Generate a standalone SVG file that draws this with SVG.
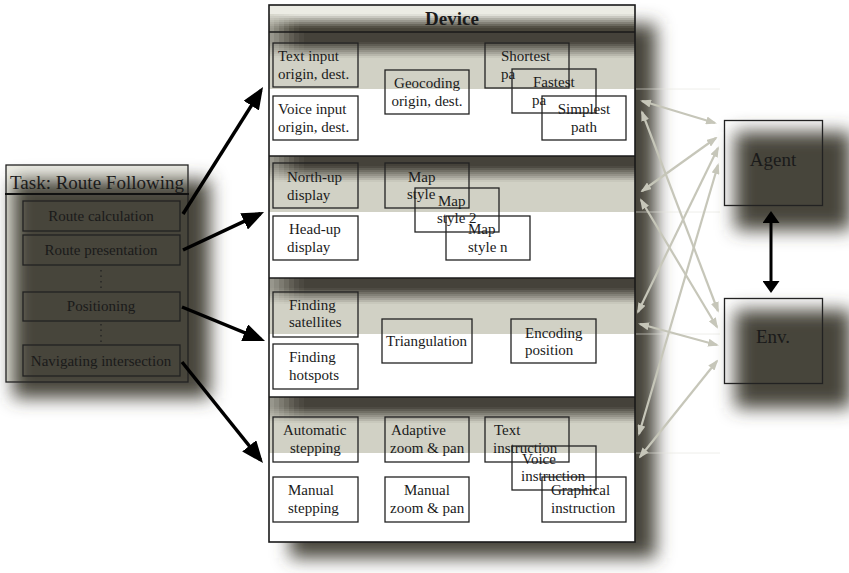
<svg xmlns="http://www.w3.org/2000/svg" width="849" height="573" viewBox="0 0 849 573">
<style>
.t{font-family:"Liberation Serif","Times New Roman",serif;font-size:15px;fill:#1a1a1a}
.tc{text-anchor:middle}
.box{fill:none;stroke:#222;stroke-width:1.3}
.sep{stroke:#1a1a1a;stroke-width:1.6}
.blk{stroke:#000;stroke-width:3.5;fill:none}
.gry{stroke:#c6c6b9;stroke-width:2.2;fill:none}
.dark{fill:#47443a}
.faint{stroke:#e4e4dc;stroke-width:1;opacity:0.6}
.lf{fill:#d1d1c5}
</style>
<defs>
<filter id="blur" filterUnits="userSpaceOnUse" x="0" y="0" width="849" height="573"><feGaussianBlur stdDeviation="9"/></filter>
<g id="shade">
<rect x="269" y="0" width="366" height="10" fill="#45423a"/>
<rect x="269" y="10" width="366" height="2" fill="#4e4b43"/>
<rect x="269" y="12" width="366" height="2" fill="#5f5d54"/>
<rect x="269" y="14" width="366" height="2" fill="#716f65"/>
<rect x="269" y="16" width="366" height="2" fill="#828177"/>
<rect x="269" y="18" width="366" height="2" fill="#949288"/>
<rect x="269" y="20" width="366" height="2" fill="#a5a49a"/>
<rect x="269" y="22" width="366" height="2" fill="#b7b6ab"/>
<rect x="269" y="24" width="366" height="2" fill="#c8c8bc"/>
<rect class="lf" x="269" y="0" width="5" height="26" opacity="0.6"/>
<rect class="lf" x="274" y="0" width="5" height="26" opacity="0.5"/>
<rect class="lf" x="279" y="0" width="5" height="26" opacity="0.4"/>
<rect class="lf" x="284" y="0" width="5" height="26" opacity="0.3"/>
<rect class="lf" x="289" y="0" width="5" height="26" opacity="0.2"/>
<rect class="lf" x="294" y="0" width="5" height="26" opacity="0.11"/>
<rect class="lf" x="299" y="0" width="5" height="26" opacity="0.05"/>
</g>
<marker id="ah" markerUnits="userSpaceOnUse" markerWidth="22" markerHeight="18" refX="18" refY="9" orient="auto"><path d="M0,0 L22,9 L0,18 Z" fill="#000"/></marker>
<marker id="ah2" markerUnits="userSpaceOnUse" markerWidth="12" markerHeight="17" refX="9" refY="8.5" orient="auto-start-reverse"><path d="M0,0 L12,8.5 L0,17 Z" fill="#000"/></marker>
<marker id="ag" markerUnits="userSpaceOnUse" markerWidth="11" markerHeight="8" refX="9" refY="4" orient="auto-start-reverse"><path d="M0,0 L11,4 L0,8 Z" fill="#c6c6b9"/></marker>
</defs>
<rect width="849" height="573" fill="#fff"/>

<!-- Device -->
<g id="device">
<rect class="dark" x="290" y="24" width="366" height="534" filter="url(#blur)"/>
<line class="faint" x1="636" y1="89" x2="720" y2="89"/>
<line class="faint" x1="636" y1="212" x2="720" y2="212"/>
<line class="faint" x1="636" y1="334" x2="720" y2="334"/>
<line class="faint" x1="636" y1="453" x2="720" y2="453"/>
<rect x="269" y="5" width="366" height="537" fill="#fff"/>
<g id="header-shade">
<rect x="269" y="5" width="366" height="9" fill="#ecece4"/>
<rect x="269" y="14" width="366" height="2" fill="#e0e0d8"/>
<rect x="269" y="16" width="366" height="2" fill="#c9c8c0"/>
<rect x="269" y="18" width="366" height="2" fill="#b1b0a7"/>
<rect x="269" y="20" width="366" height="2" fill="#9a998f"/>
<rect x="269" y="22" width="366" height="2" fill="#838177"/>
<rect x="269" y="24" width="366" height="2" fill="#6b695e"/>
<rect x="269" y="26" width="366" height="2" fill="#545146"/>
<rect x="269" y="28" width="366" height="4" fill="#48453a"/>
<rect class="lf" x="269" y="14" width="5" height="18" opacity="0.6"/>
<rect class="lf" x="274" y="14" width="5" height="18" opacity="0.48"/>
<rect class="lf" x="279" y="14" width="5" height="18" opacity="0.36"/>
<rect class="lf" x="284" y="14" width="5" height="18" opacity="0.24"/>
<rect class="lf" x="289" y="14" width="5" height="18" opacity="0.13"/>
<rect class="lf" x="294" y="14" width="5" height="18" opacity="0.05"/>
</g>
<rect x="269" y="32" width="366" height="57" fill="#d1d1c5"/>
<use href="#shade" y="32"/>
<rect x="269" y="156" width="366" height="56" fill="#d1d1c5"/>
<use href="#shade" y="156"/>
<rect x="269" y="278" width="366" height="56" fill="#d1d1c5"/>
<use href="#shade" y="278"/>
<rect x="269" y="397" width="366" height="56" fill="#d1d1c5"/>
<use href="#shade" y="397"/>
<rect x="269" y="5" width="366" height="537" fill="none" stroke="#1a1a1a" stroke-width="1.6"/>
<line class="sep" x1="269" y1="32" x2="635" y2="32"/>
<line class="sep" x1="269" y1="156" x2="635" y2="156"/>
<line class="sep" x1="269" y1="278" x2="635" y2="278"/>
<line class="sep" x1="269" y1="397" x2="635" y2="397"/>
<text class="t tc" x="452" y="25" style="font-size:19px;font-weight:bold">Device</text>
</g>

<g id="text-input"><rect class="box" x="273" y="43" width="85" height="44"/><text class="t"><tspan x="278" y="61">Text input</tspan><tspan x="278" y="79">origin, dest.</tspan></text></g>
<g id="voice-input"><rect class="box" x="273" y="96" width="85" height="44"/><text class="t"><tspan x="278" y="114">Voice input</tspan><tspan x="278" y="132">origin, dest.</tspan></text></g>
<g id="geocoding"><rect class="box" x="385" y="70" width="84" height="44"/><text class="t tc"><tspan x="427" y="88">Geocoding</tspan><tspan x="427" y="106">origin, dest.</tspan></text></g>
<g id="shortest"><rect class="box" x="485" y="43" width="84" height="45"/><text class="t"><tspan x="501" y="61">Shortest</tspan><tspan x="501" y="79">pa</tspan></text></g>
<g id="fastest"><rect class="box" x="512" y="69" width="84" height="44"/><text class="t"><tspan x="533" y="87">Fastest</tspan><tspan x="532" y="105">pa</tspan></text></g>
<g id="simplest"><rect class="box" x="542" y="96" width="84" height="44"/><text class="t tc"><tspan x="584" y="114">Simplest</tspan><tspan x="584" y="132">path</tspan></text></g>

<g id="north-up"><rect class="box" x="273" y="163" width="85" height="45"/><text class="t"><tspan x="287" y="182">North-up</tspan><tspan x="287" y="200">display</tspan></text></g>
<g id="head-up"><rect class="box" x="273" y="216" width="85" height="44"/><text class="t"><tspan x="289" y="234">Head-up</tspan><tspan x="287" y="252">display</tspan></text></g>
<g id="map-style"><rect class="box" x="385" y="163" width="84" height="45"/><text class="t"><tspan x="408" y="182">Map</tspan><tspan x="407" y="199">style</tspan></text></g>
<g id="map-style-2"><rect class="box" x="415" y="188" width="84" height="44"/><text class="t"><tspan x="438" y="206">Map</tspan><tspan x="437" y="223">style 2</tspan></text></g>
<g id="map-style-n"><rect class="box" x="446" y="216" width="84" height="44"/><text class="t"><tspan x="468" y="234">Map</tspan><tspan x="468" y="252">style n</tspan></text></g>

<g id="finding-satellites"><rect class="box" x="273" y="292" width="85" height="45"/><text class="t"><tspan x="289" y="310">Finding</tspan><tspan x="289" y="327">satellites</tspan></text></g>
<g id="finding-hotspots"><rect class="box" x="273" y="344" width="85" height="45"/><text class="t"><tspan x="289" y="362">Finding</tspan><tspan x="289" y="380">hotspots</tspan></text></g>
<g id="triangulation"><rect class="box" x="382" y="319" width="90" height="44"/><text class="t"><tspan x="386" y="346">Triangulation</tspan></text></g>
<g id="encoding"><rect class="box" x="511" y="319" width="85" height="44"/><text class="t"><tspan x="525" y="338">Encoding</tspan><tspan x="525" y="355">position</tspan></text></g>

<g id="automatic-stepping"><rect class="box" x="273" y="417" width="85" height="45"/><text class="t"><tspan x="283" y="435">Automatic</tspan><tspan x="290" y="453">stepping</tspan></text></g>
<g id="manual-stepping"><rect class="box" x="273" y="477" width="85" height="45"/><text class="t"><tspan x="288" y="495">Manual</tspan><tspan x="288" y="513">stepping</tspan></text></g>
<g id="adaptive-zoom"><rect class="box" x="385" y="417" width="84" height="45"/><text class="t"><tspan x="391" y="435">Adaptive</tspan><tspan x="390" y="453">zoom &amp; pan</tspan></text></g>
<g id="manual-zoom"><rect class="box" x="385" y="477" width="84" height="45"/><text class="t"><tspan x="404" y="495">Manual</tspan><tspan x="390" y="513">zoom &amp; pan</tspan></text></g>
<g id="text-instruction"><rect class="box" x="485" y="417" width="84" height="45"/><text class="t"><tspan x="494" y="435">Text</tspan><tspan x="493" y="453">instruction</tspan></text></g>
<g id="voice-instruction"><rect class="box" x="512" y="446" width="84" height="44"/><text class="t"><tspan x="522" y="464">Voice</tspan><tspan x="521" y="481">instruction</tspan></text></g>
<g id="graphical-instruction"><rect class="box" x="542" y="477" width="84" height="45"/><text class="t"><tspan x="551" y="495">Graphical</tspan><tspan x="551" y="513">instruction</tspan></text></g>

<!-- Task -->
<g id="task">
<rect x="6" y="165" width="182" height="217" fill="#eeeee6"/>
<rect class="dark" x="13" y="180" width="197" height="218" filter="url(#blur)"/>
<rect x="6" y="165" width="182" height="217" fill="none" stroke="#222" stroke-width="1.3"/>
<line x1="5" y1="194" x2="189" y2="194" stroke="#111" stroke-width="2"/>
<text class="t tc" x="97" y="189" style="font-size:19px">Task: Route Following</text>
</g>
<g id="route-calculation"><rect class="box" x="23" y="201" width="157" height="30"/><text class="t tc" x="101" y="221">Route calculation</text></g>
<g id="route-presentation"><rect class="box" x="23" y="235" width="157" height="30"/><text class="t tc" x="101" y="255">Route presentation</text></g>
<g id="positioning"><rect class="box" x="23" y="292" width="157" height="29"/><text class="t tc" x="101" y="311">Positioning</text></g>
<g id="navigating"><rect class="box" x="23" y="345" width="157" height="31"/><text class="t tc" x="101" y="366">Navigating intersection</text></g>
<g id="dots" stroke="#222" stroke-width="1.3" stroke-dasharray="1.5,4">
<line x1="101" y1="270" x2="101" y2="288"/>
<line x1="101" y1="324" x2="101" y2="342"/>
</g>

<!-- Agent / Env -->
<g id="agent">
<rect class="dark" x="735" y="132" width="116" height="98" filter="url(#blur)"/>
<rect x="724.5" y="120.5" width="98" height="85" fill="none" stroke="#222" stroke-width="1.3"/>
<text class="t tc" x="773" y="166" style="font-size:19px">Agent</text>
</g>
<g id="env">
<rect class="dark" x="735" y="310" width="116" height="98" filter="url(#blur)"/>
<rect x="724.5" y="298.5" width="98" height="85" fill="none" stroke="#222" stroke-width="1.3"/>
<text class="t tc" x="773" y="343" style="font-size:19px">Env.</text>
</g>

<g id="connectors">
<line class="blk" x1="183" y1="214" x2="260.9" y2="90.4" marker-end="url(#ah)"/>
<line class="blk" x1="183" y1="250" x2="260.4" y2="213.7" marker-end="url(#ah)"/>
<line class="blk" x1="182" y1="307" x2="261.3" y2="339.5" marker-end="url(#ah)"/>
<line class="blk" x1="182" y1="362" x2="260.5" y2="459.9" marker-end="url(#ah)"/>
<line x1="771" y1="214" x2="771" y2="290" stroke="#000" stroke-width="3" marker-start="url(#ah2)" marker-end="url(#ah2)"/>
<line class="gry" x1="642" y1="101" x2="715" y2="123" marker-start="url(#ag)" marker-end="url(#ag)"/>
<line class="gry" x1="642" y1="112" x2="718" y2="311" marker-start="url(#ag)" marker-end="url(#ag)"/>
<line class="gry" x1="642" y1="191" x2="716" y2="138" marker-start="url(#ag)" marker-end="url(#ag)"/>
<line class="gry" x1="641" y1="200" x2="717" y2="327" marker-start="url(#ag)" marker-end="url(#ag)"/>
<line class="gry" x1="638" y1="312" x2="718" y2="148" marker-start="url(#ag)" marker-end="url(#ag)"/>
<line class="gry" x1="640" y1="324" x2="717" y2="345" marker-start="url(#ag)" marker-end="url(#ag)"/>
<line class="gry" x1="639" y1="434" x2="718" y2="165" marker-start="url(#ag)" marker-end="url(#ag)"/>
<line class="gry" x1="640" y1="457" x2="717" y2="361" marker-start="url(#ag)" marker-end="url(#ag)"/>
</g>
</svg>
